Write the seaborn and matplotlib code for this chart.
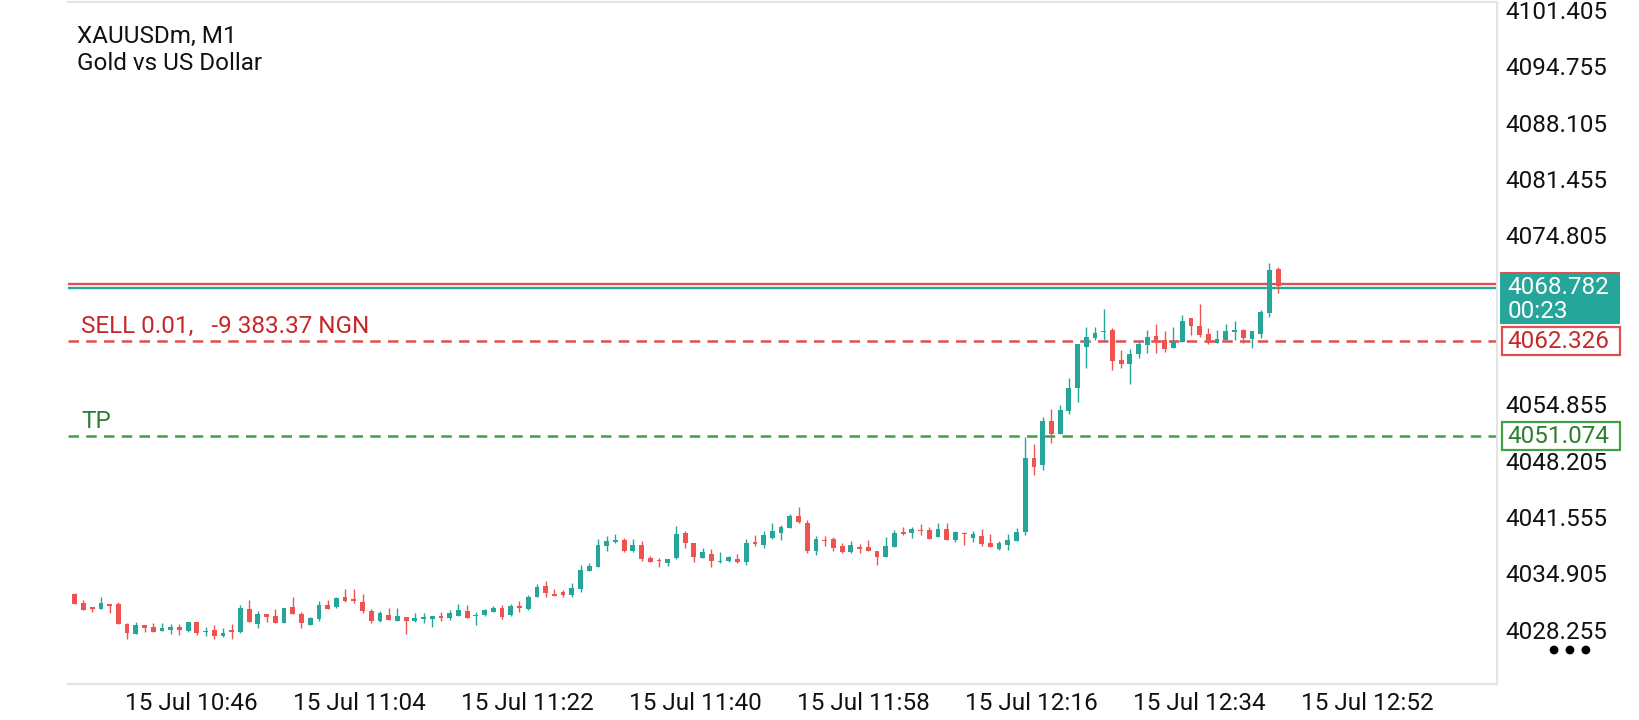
import numpy as np
import pandas as pd
import matplotlib
matplotlib.use('Agg')
import matplotlib.pyplot as plt
import matplotlib.transforms as mtransforms
from matplotlib.patches import Rectangle, Ellipse
import seaborn as sns

# chart header
symbol = 'XAUUSDm, M1'
description = 'Gold vs US Dollar'

# M1 candles, oldest first
opens = [4032.42, 4031.43, 4030.92, 4030.72, 4031.27, 4031.27, 4028.91, 4027.77, 4028.79, 4028.52,
         4028.13, 4028.24, 4028.56, 4028.13, 4029.15, 4027.93, 4028.20, 4027.54, 4028.24, 4027.97,
         4030.68, 4028.95, 4030.09, 4029.86, 4029.03, 4030.92, 4030.13, 4028.83, 4029.50, 4031.16,
         4030.92, 4032.10, 4031.86, 4031.51, 4030.49, 4029.27, 4029.98, 4029.31, 4029.70, 4029.27,
         4029.54, 4029.54, 4029.86, 4029.66, 4029.86, 4030.45, 4029.90, 4029.94, 4030.37, 4030.80,
         4029.98, 4031.08, 4030.68, 4032.14, 4033.40, 4032.49, 4032.69, 4032.30, 4033.04, 4035.17,
         4035.68, 4038.12, 4038.63, 4038.83, 4037.53, 4038.24, 4036.70, 4036.46, 4036.11, 4036.66,
         4039.69, 4038.47, 4036.70, 4037.17, 4036.23, 4036.35, 4036.58, 4036.23, 4038.63, 4038.24,
         4039.02, 4039.65, 4040.28, 4041.66, 4040.87, 4037.53, 4038.83, 4038.94, 4038.08, 4037.41,
         4038.00, 4038.00, 4037.53, 4036.78, 4038.04, 4039.81, 4039.65, 4040.04, 4040.00, 4039.22,
         4040.08, 4038.83, 4039.69, 4039.10, 4039.34, 4038.51, 4037.80, 4038.24, 4038.71, 4039.81,
         4048.47, 4047.69, 4052.88, 4051.35, 4054.10, 4056.82, 4061.66, 4062.68, 4063.35, 4063.63,
         4060.08, 4059.61, 4060.75, 4061.85, 4062.88, 4062.44, 4061.54, 4062.25, 4065.00, 4064.10,
         4063.11, 4062.13, 4062.44, 4063.43, 4063.63, 4062.56, 4063.15, 4065.67, 4070.79]
highs = [4032.61, 4031.75, 4030.92, 4032.10, 4031.27, 4031.51, 4029.07, 4029.15, 4028.79, 4029.03,
         4029.03, 4028.95, 4028.95, 4029.15, 4029.15, 4028.52, 4028.79, 4028.44, 4028.91, 4031.16,
         4031.75, 4030.45, 4030.09, 4030.68, 4030.80, 4032.10, 4030.33, 4029.70, 4031.63, 4031.75,
         4032.14, 4033.04, 4033.04, 4032.45, 4030.68, 4030.41, 4030.76, 4030.76, 4029.70, 4030.17,
         4030.17, 4029.86, 4030.37, 4030.53, 4031.24, 4031.16, 4030.33, 4030.64, 4031.04, 4031.16,
         4031.27, 4031.67, 4032.33, 4033.67, 4033.99, 4033.04, 4032.92, 4033.71, 4035.88, 4036.11,
         4038.95, 4039.26, 4039.54, 4039.02, 4038.95, 4038.71, 4036.94, 4036.66, 4036.62, 4040.48,
         4039.85, 4038.47, 4037.88, 4037.72, 4037.41, 4036.98, 4037.17, 4038.95, 4039.42, 4039.89,
         4040.87, 4040.60, 4041.90, 4042.72, 4041.19, 4039.30, 4039.30, 4039.18, 4038.43, 4038.71,
         4038.35, 4038.83, 4037.53, 4039.14, 4040.00, 4040.36, 4040.32, 4040.71, 4040.32, 4040.87,
         4040.83, 4039.89, 4039.81, 4039.85, 4040.08, 4039.53, 4038.71, 4039.53, 4040.20, 4051.03,
         4050.17, 4053.39, 4054.30, 4054.81, 4057.96, 4061.97, 4063.94, 4063.94, 4066.10, 4063.82,
         4061.26, 4061.38, 4062.44, 4063.63, 4064.33, 4063.51, 4063.94, 4065.40, 4065.00, 4066.69,
         4063.86, 4063.63, 4064.33, 4064.69, 4063.74, 4063.51, 4065.99, 4071.49, 4071.02]
lows = [4031.31, 4030.60, 4030.37, 4030.72, 4030.25, 4028.87, 4027.18, 4027.77, 4028.01, 4028.01,
        4028.13, 4027.69, 4027.65, 4027.97, 4027.65, 4027.50, 4027.18, 4027.42, 4027.18, 4027.89,
        4029.19, 4028.48, 4029.19, 4029.00, 4029.00, 4030.09, 4028.48, 4028.76, 4029.31, 4030.68,
        4030.84, 4031.47, 4031.43, 4030.25, 4029.07, 4029.19, 4029.39, 4029.31, 4027.73, 4029.15,
        4029.07, 4028.56, 4029.27, 4029.43, 4029.86, 4029.62, 4028.79, 4029.90, 4030.29, 4029.47,
        4029.82, 4030.37, 4030.60, 4032.14, 4032.06, 4032.26, 4032.10, 4032.10, 4032.73, 4035.17,
        4035.68, 4037.57, 4038.51, 4037.45, 4037.45, 4036.39, 4036.23, 4035.68, 4035.80, 4036.58,
        4037.92, 4036.27, 4036.70, 4035.68, 4036.15, 4036.23, 4036.15, 4035.92, 4038.16, 4037.92,
        4038.90, 4038.83, 4040.20, 4040.83, 4037.25, 4037.05, 4038.16, 4037.57, 4037.33, 4037.33,
        4037.25, 4037.49, 4035.92, 4036.78, 4038.04, 4039.45, 4039.10, 4039.42, 4038.98, 4039.22,
        4038.79, 4038.59, 4038.24, 4038.63, 4038.12, 4038.04, 4037.65, 4037.65, 4038.71, 4039.42,
        4046.51, 4047.10, 4050.32, 4051.35, 4053.71, 4055.16, 4059.18, 4062.44, 4062.44, 4058.90,
        4059.10, 4057.25, 4060.28, 4060.87, 4060.87, 4060.99, 4061.46, 4062.25, 4063.04, 4062.76,
        4061.93, 4062.13, 4062.44, 4062.44, 4062.05, 4061.46, 4062.64, 4065.20, 4068.03]
closes = [4031.31, 4030.60, 4030.72, 4031.43, 4031.08, 4028.95, 4027.89, 4028.79, 4028.48, 4028.01,
          4028.44, 4028.56, 4028.20, 4029.15, 4027.89, 4028.01, 4027.54, 4027.85, 4028.01, 4030.80,
          4029.19, 4030.09, 4029.78, 4029.03, 4030.80, 4030.09, 4029.03, 4029.58, 4031.12, 4030.68,
          4032.02, 4031.67, 4031.67, 4030.45, 4029.27, 4030.21, 4029.39, 4029.82, 4029.31, 4029.62,
          4029.74, 4029.86, 4029.66, 4030.21, 4030.57, 4029.62, 4029.98, 4030.57, 4030.80, 4029.78,
          4031.04, 4030.84, 4032.10, 4033.28, 4032.61, 4032.26, 4032.30, 4033.12, 4035.29, 4035.76,
          4038.24, 4038.71, 4038.87, 4037.53, 4038.24, 4036.58, 4036.23, 4036.35, 4036.62, 4039.53,
          4038.51, 4036.82, 4037.41, 4036.35, 4036.35, 4036.86, 4036.23, 4038.47, 4038.35, 4039.42,
          4039.89, 4040.36, 4041.66, 4040.91, 4037.53, 4038.90, 4038.71, 4037.88, 4037.41, 4038.24,
          4037.76, 4037.49, 4036.82, 4038.12, 4039.69, 4039.53, 4040.08, 4039.89, 4038.98, 4040.08,
          4038.87, 4039.81, 4039.49, 4039.53, 4038.35, 4038.04, 4038.51, 4038.87, 4039.81, 4048.47,
          4047.49, 4052.88, 4051.35, 4054.18, 4056.78, 4061.97, 4062.76, 4063.27, 4063.43, 4060.00,
          4059.61, 4060.79, 4061.97, 4062.80, 4062.25, 4061.34, 4062.17, 4064.69, 4064.14, 4063.04,
          4062.05, 4062.56, 4063.51, 4063.63, 4062.72, 4063.51, 4065.71, 4070.71, 4068.782]

# price levels
bid_price = 4068.782
ask_price = 4069.05
entry_price = 4062.326
tp_price = 4051.074
timer_text = '00:23'
order_label = 'SELL 0.01,   -9 383.37 NGN'
tp_label = 'TP'

# axis labels (the two levels hidden behind the price tags are left out)
time_labels = ['15 Jul 10:46', '15 Jul 11:04', '15 Jul 11:22', '15 Jul 11:40',
               '15 Jul 11:58', '15 Jul 12:16', '15 Jul 12:34', '15 Jul 12:52']
price_ticks = [4028.255, 4034.905, 4041.555, 4048.205, 4054.855,
               4074.805, 4081.455, 4088.105, 4094.755, 4101.405]

UP = '#26a69a'
DOWN = '#ef5350'
FRAME = '#e4e4e4'
RED_LINE = '#e04f4f'
RED_TEXT = '#c62828'
GREEN_LINE = '#43a047'
GREEN_TEXT = '#2e7d32'
FS = 17.5

sns.set_theme(style='white')
plt.rcParams['font.family'] = ['Roboto', 'DejaVu Sans']

df = pd.DataFrame({'open': opens, 'high': highs, 'low': lows, 'close': closes})
df['idx'] = np.arange(len(df))
df['color'] = np.where(df['close'] >= df['open'], UP, DOWN)
df['body_low'] = df[['open', 'close']].min(axis=1)
df['body_h'] = (df['close'] - df['open']).abs().clip(lower=0.12)

fig = plt.figure(figsize=(16.4, 7.2), dpi=100)
ax = fig.add_axes([0.0415, 0.05, 0.8713, 0.9472])

# price lines
ax.axhline(ask_price, color=RED_LINE, lw=1.7, zorder=1)
ax.axhline(bid_price - 0.2, color=UP, lw=1.7, zorder=1)
ax.axhline(entry_price, color=RED_LINE, lw=1.8, ls=(0, (4.2, 2.9)), zorder=1)
ax.axhline(tp_price, color=GREEN_LINE, lw=1.8, ls=(0, (4.2, 2.9)), zorder=1)

# candles
ax.vlines(df['idx'], df['low'], df['high'], colors=df['color'], linewidth=1.0, zorder=2)
ax.bar(df['idx'], df['body_h'], bottom=df['body_low'], width=0.55,
       color=df['color'], linewidth=0, zorder=3)

ax.set_xlim(-0.77, 163.1)
ax.set_ylim(4021.83, 4102.35)

# time axis, labels start at their tick
label_step = 19.27
ax.set_xticks(5.5 + label_step * np.arange(len(time_labels)))
ax.set_xticklabels(time_labels, ha='left')
ax.tick_params(axis='x', length=3, width=1.2, color=FRAME, pad=3,
               labelsize=FS, labelcolor='#111111')
shift = mtransforms.ScaledTranslation(2 / 100, 0, fig.dpi_scale_trans)
for lbl in ax.get_xticklabels():
    lbl.set_transform(lbl.get_transform() + shift)

# price axis on the right
ax.yaxis.tick_right()
ax.set_yticks(price_ticks)
ax.set_yticklabels([f'{v:.3f}' for v in price_ticks])
ax.tick_params(axis='y', length=3, width=1.2, color=FRAME, pad=3,
               labelsize=FS, labelcolor='#111111')

sns.despine(ax=ax, left=True, top=False, right=False, bottom=False)
for side in ['top', 'right', 'bottom']:
    ax.spines[side].set_color(FRAME)
    ax.spines[side].set_linewidth(1.6)

trans = mtransforms.blended_transform_factory(ax.transAxes, ax.transData)

# header
ax.text(0.0063, 0.940, symbol, transform=ax.transAxes, fontsize=FS,
        va='baseline', color='#111111')
ax.text(0.0063, 0.900, description, transform=ax.transAxes, fontsize=FS,
        va='baseline', color='#111111')

# order / TP labels
ax.text(0.0094, entry_price + 0.95, order_label, transform=trans, fontsize=FS,
        va='baseline', color=RED_TEXT)
ax.text(0.0094, tp_price + 0.95, tp_label, transform=trans, fontsize=FS,
        va='baseline', color=GREEN_TEXT)

# price tags on the scale
bx = 1.0021
bw = 0.084
ax.add_patch(Rectangle((bx, bid_price - 4.45), bw, 6.14, transform=trans,
                       clip_on=False, facecolor=UP, edgecolor='none', zorder=5))
ax.add_patch(Rectangle((bx, bid_price + 1.45), bw, 0.3, transform=trans,
                       clip_on=False, facecolor=RED_LINE, edgecolor='none', zorder=6))
ax.text(bx + 0.005, bid_price - 0.1, f'{bid_price:.3f}', transform=trans, fontsize=FS,
        va='center', color='white', zorder=7)
ax.text(bx + 0.005, bid_price - 3.0, timer_text, transform=trans, fontsize=FS,
        va='center', color='white', zorder=7)

for level, edge, tcol in [(entry_price, RED_LINE, RED_TEXT), (tp_price, GREEN_LINE, GREEN_TEXT)]:
    ax.add_patch(Rectangle((bx + 0.0014, level - 1.65), bw - 0.0014, 3.3, transform=trans,
                           clip_on=False, facecolor='white', edgecolor=edge,
                           linewidth=1.6, zorder=5))
    ax.text(bx + 0.005, level, f'{level:.3f}', transform=trans, fontsize=FS,
            va='center', color=tcol, zorder=7)

# menu dots
for k in range(3):
    fig.add_artist(Ellipse((0.9476 + k * 0.0097, 0.0972), 0.0045, 0.0102,
                           transform=fig.transFigure, color='black'))

fig.savefig('out.png', dpi=100)
